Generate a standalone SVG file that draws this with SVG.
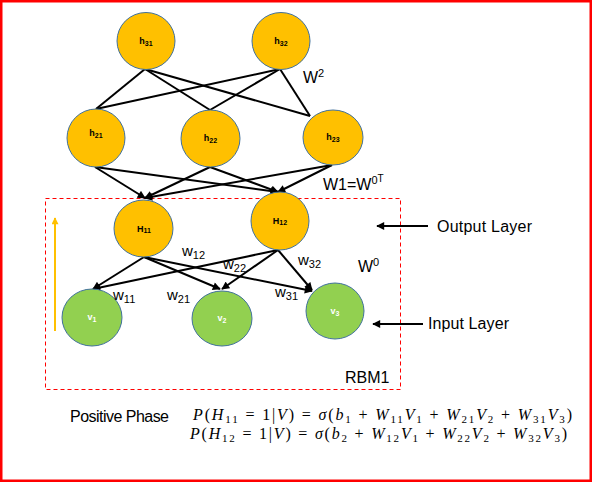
<svg xmlns="http://www.w3.org/2000/svg" width="593" height="483" viewBox="0 0 593 483">
<style>
.frame{fill:#fff;stroke:#FF0000;stroke-width:2.5}
.rbm{fill:none;stroke:#FF0000;stroke-width:1;stroke-dasharray:4 3}
.hn{fill:#FFC000;stroke:#41719C;stroke-width:1}
.vn{fill:#92D050;stroke:#41719C;stroke-width:1}
.ln{stroke:#000;stroke-width:2;fill:none}
.ar{stroke:#000;stroke-width:2;fill:none;marker-end:url(#ah)}
.t{font-family:"Liberation Sans",Arial,sans-serif;fill:#000}
.nl{font-family:"Liberation Sans",Arial,sans-serif;font-weight:bold;font-size:9px;text-anchor:middle;fill:#000}
.vl{fill:#fff}
.eq{font-family:"Liberation Serif","Times New Roman",serif;font-size:16px;fill:#000}
.i{font-style:italic}
</style>
<defs>
<marker id="ah" viewBox="0 0 10 10" refX="9" refY="5" markerWidth="9" markerHeight="8" markerUnits="userSpaceOnUse" orient="auto">
<path d="M0,0 L10,5 L0,10 z" fill="#000"/>
</marker>
<marker id="aho" viewBox="0 0 10 10" refX="9" refY="5" markerWidth="9" markerHeight="7" markerUnits="userSpaceOnUse" orient="auto">
<path d="M0,0 L10,5 L0,10 z" fill="#FFC000"/>
</marker>
</defs>
<rect class="frame" x="1.25" y="1.25" width="589.5" height="479.5"/>
<rect class="rbm" x="45.5" y="198.5" width="355" height="191"/>

<g id="connectors">
<line class="ln" x1="145" y1="69" x2="96" y2="109"/>
<line class="ln" x1="145" y1="69" x2="210" y2="110"/>
<line class="ln" x1="145" y1="69" x2="310" y2="116"/>
<line class="ln" x1="280" y1="69" x2="96" y2="109"/>
<line class="ln" x1="280" y1="69" x2="210" y2="110"/>
<line class="ln" x1="280" y1="69" x2="310" y2="116"/>
<line class="ar" x1="95" y1="167" x2="145" y2="198"/>
<line class="ar" x1="95" y1="167" x2="278" y2="192"/>
<line class="ar" x1="210" y1="167" x2="145" y2="198"/>
<line class="ar" x1="210" y1="167" x2="278" y2="192"/>
<line class="ar" x1="332" y1="165" x2="145" y2="198"/>
<line class="ar" x1="332" y1="165" x2="278" y2="192"/>
<line class="ar" x1="144" y1="257" x2="93" y2="289"/>
<line class="ar" x1="144" y1="257" x2="220" y2="289"/>
<line class="ar" x1="144" y1="257" x2="312" y2="291"/>
<line class="ar" x1="278" y1="250" x2="93" y2="289"/>
<line class="ar" x1="278" y1="250" x2="222" y2="289"/>
<line class="ar" x1="278" y1="250" x2="312" y2="290"/>
<line class="ar" x1="428" y1="226" x2="377" y2="226"/>
<line class="ar" x1="423" y1="324" x2="373" y2="324"/>
<line x1="55" y1="331" x2="55" y2="218" stroke="#FFC000" stroke-width="2" marker-end="url(#aho)"/>
</g>

<g id="h31"><ellipse class="hn" cx="146" cy="41" rx="29" ry="28.5"/><text class="nl" x="146" y="44">h<tspan font-size="7" dy="2">31</tspan></text></g>
<g id="h32"><ellipse class="hn" cx="281" cy="41" rx="29" ry="28.5"/><text class="nl" x="281" y="44">h<tspan font-size="7" dy="2">32</tspan></text></g>
<g id="h21"><ellipse class="hn" cx="96" cy="138" rx="29" ry="29"/><text class="nl" x="96" y="136">h<tspan font-size="7" dy="2">21</tspan></text></g>
<g id="h22"><ellipse class="hn" cx="210.5" cy="138.5" rx="29.5" ry="28.5"/><text class="nl" x="210.5" y="141">h<tspan font-size="7" dy="2">22</tspan></text></g>
<g id="h23"><ellipse class="hn" cx="333" cy="137.5" rx="30" ry="27.5"/><text class="nl" x="333" y="140">h<tspan font-size="7" dy="2">23</tspan></text></g>
<g id="H11"><ellipse class="hn" cx="143.5" cy="228.5" rx="29.5" ry="28.5"/><text class="nl" x="144" y="232">H<tspan font-size="7" dy="1">11</tspan></text></g>
<g id="H12"><ellipse class="hn" cx="280" cy="221" rx="29" ry="29"/><text class="nl" x="280" y="224">H<tspan font-size="7" dy="1">12</tspan></text></g>
<g id="v1"><ellipse class="vn" cx="92" cy="317.5" rx="30" ry="28.5"/><text class="nl vl" x="92" y="320">v<tspan font-size="7" dy="2">1</tspan></text></g>
<g id="v2"><ellipse class="vn" cx="222" cy="318.5" rx="30" ry="27.5"/><text class="nl vl" x="222" y="321">v<tspan font-size="7" dy="2">2</tspan></text></g>
<g id="v3"><ellipse class="vn" cx="335" cy="311" rx="29" ry="28"/><text class="nl vl" x="335" y="314">v<tspan font-size="7" dy="2">3</tspan></text></g>

<g id="labels">
<text class="t" x="303" y="83" font-size="16">W<tspan font-size="11" dy="-6">2</tspan></text>
<text class="t" x="323" y="190" font-size="16">W1=W<tspan font-size="11" dy="-6">0</tspan><tspan font-size="10" dy="-2">T</tspan></text>
<text class="t" x="358" y="272" font-size="16">W<tspan font-size="11" dy="-6">0</tspan></text>
<text class="t" x="437" y="232" font-size="16" textLength="95">Output Layer</text>
<text class="t" x="428" y="329" font-size="16" textLength="81">Input Layer</text>
<text class="t" x="345" y="383" font-size="16">RBM1</text>
<text class="t" x="182" y="256" font-size="15">w<tspan font-size="11" dy="3">12</tspan></text>
<text class="t" x="223" y="269" font-size="15">w<tspan font-size="11" dy="3">22</tspan></text>
<text class="t" x="298" y="265" font-size="15">w<tspan font-size="11" dy="3">32</tspan></text>
<text class="t" x="113" y="300" font-size="15">w<tspan font-size="11" dy="3">11</tspan></text>
<text class="t" x="167" y="300" font-size="15">w<tspan font-size="11" dy="3">21</tspan></text>
<text class="t" x="275" y="297" font-size="15">w<tspan font-size="11" dy="3">31</tspan></text>
<text class="t" x="70" y="422" font-size="16" textLength="99">Positive Phase</text>
<text class="eq" x="193" y="420" textLength="379" lengthAdjust="spacing"><tspan class="i">P</tspan>(<tspan class="i">H</tspan><tspan font-size="11" dy="3">11</tspan><tspan dy="-3"> = 1|</tspan><tspan class="i">V</tspan>) = <tspan class="i">σ</tspan>(<tspan class="i">b</tspan><tspan font-size="11" dy="3">1</tspan><tspan dy="-3"> + </tspan><tspan class="i">W</tspan><tspan font-size="11" dy="3">11</tspan><tspan class="i" dy="-3">V</tspan><tspan font-size="11" dy="3">1</tspan><tspan dy="-3">  + </tspan><tspan class="i">W</tspan><tspan font-size="11" dy="3">21</tspan><tspan class="i" dy="-3">V</tspan><tspan font-size="11" dy="3">2</tspan><tspan dy="-3"> + </tspan><tspan class="i">W</tspan><tspan font-size="11" dy="3">31</tspan><tspan class="i" dy="-3">V</tspan><tspan font-size="11" dy="3">3</tspan><tspan dy="-3">)</tspan></text>
<text class="eq" x="190" y="439" textLength="377" lengthAdjust="spacing"><tspan class="i">P</tspan>(<tspan class="i">H</tspan><tspan font-size="11" dy="3">12</tspan><tspan dy="-3"> = 1|</tspan><tspan class="i">V</tspan>) = <tspan class="i">σ</tspan>(<tspan class="i">b</tspan><tspan font-size="11" dy="3">2</tspan><tspan dy="-3"> + </tspan><tspan class="i">W</tspan><tspan font-size="11" dy="3">12</tspan><tspan class="i" dy="-3">V</tspan><tspan font-size="11" dy="3">1</tspan><tspan dy="-3">  + </tspan><tspan class="i">W</tspan><tspan font-size="11" dy="3">22</tspan><tspan class="i" dy="-3">V</tspan><tspan font-size="11" dy="3">2</tspan><tspan dy="-3"> + </tspan><tspan class="i">W</tspan><tspan font-size="11" dy="3">32</tspan><tspan class="i" dy="-3">V</tspan><tspan font-size="11" dy="3">3</tspan><tspan dy="-3">)</tspan></text>
</g>
</svg>
